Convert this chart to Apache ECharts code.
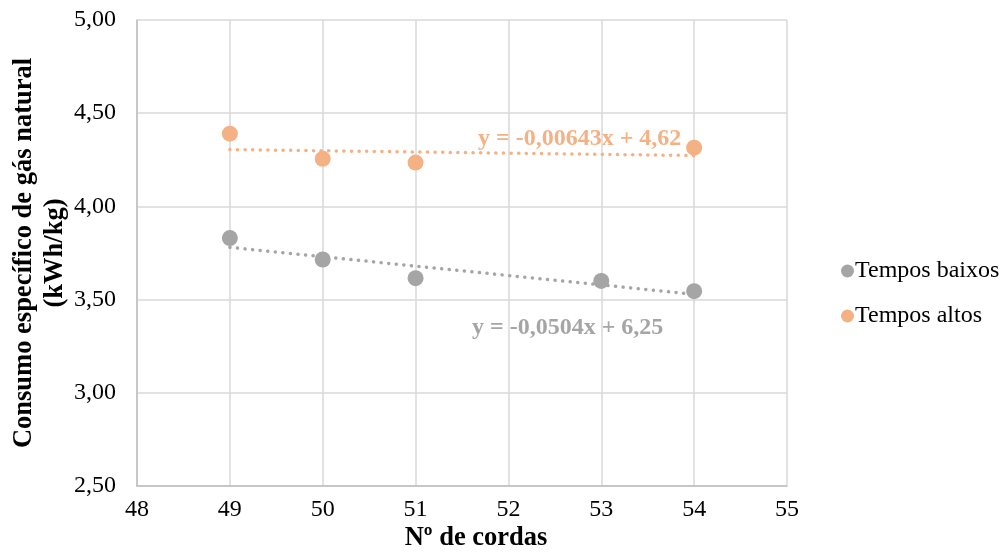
<!DOCTYPE html>
<html>
<head>
<meta charset="utf-8">
<script src="https://cdn.jsdelivr.net/npm/echarts@6/dist/echarts.min.js"></script>
<style>html,body{margin:0;padding:0;background:#fff}#c{width:1004px;height:554px}</style>
</head>
<body>
<div id="c"></div>
<script>
const seriesNames = ['Tempos baixos', 'Tempos altos'];
const baixosX = [49, 50, 51, 53, 54];
const baixosY = [3.83, 3.715, 3.615, 3.60, 3.545];
const altosX = [49, 50, 51, 54];
const altosY = [4.39, 4.255, 4.235, 4.315];
// trendline coefficients (slope, intercept) as shown in the chart
const baixosTrend = [-0.0504, 6.25];
const altosTrend = [-0.00643, 4.62];
const trendRange = [49, 54];
const eqLabels = ['y = -0,0504x + 6,25', 'y = -0,00643x + 4,62'];
const xTitle = 'Nº de cordas';
const yTitle = 'Consumo específico de gás natural\n(kWh/kg)';

const gray = '#a5a5a5', orange = '#f4b183';
const font = "'Liberation Serif', 'Times New Roman', serif";
const pts = (xs, ys) => xs.map((x, i) => [x, ys[i]]);
const trend = (c) => trendRange.map(x => [x, c[0] * x + c[1]]);

const chart = echarts.init(document.getElementById('c'), null, {renderer: 'canvas'});
chart.setOption({
  animation: false,
  textStyle: {fontFamily: font},
  grid: {left: 137, right: 217, top: 20, bottom: 68, containLabel: false, outerBoundsMode: 'none'},
  xAxis: {
    type: 'value', min: 48, max: 55, interval: 1,
    name: xTitle, nameLocation: 'middle', nameGap: 39, nameMoveOverlap: false,
    nameTextStyle: {fontFamily: font, fontSize: 26.5, fontWeight: 'bold', color: '#000', padding: [0, 0, 0, 28]},
    axisLine: {show: true, lineStyle: {color: '#bfbfbf', width: 1.5}},
    axisTick: {show: false},
    axisLabel: {fontFamily: font, fontSize: 24, color: '#000', margin: 12},
    splitLine: {show: true, lineStyle: {color: '#d9d9d9', width: 1.5}}
  },
  yAxis: {
    type: 'value', min: 2.5, max: 5, interval: 0.5,
    name: yTitle, nameLocation: 'middle', nameGap: 66, nameRotate: 90, nameMoveOverlap: false,
    nameTextStyle: {fontFamily: font, fontSize: 26.5, fontWeight: 'bold', color: '#000', lineHeight: 31},
    axisLine: {show: true, lineStyle: {color: '#bfbfbf', width: 1.5}},
    axisTick: {show: false},
    axisLabel: {fontFamily: font, fontSize: 24, color: '#000', margin: 21,
      formatter: v => v.toFixed(2).replace('.', ',')},
    splitLine: {show: true, lineStyle: {color: '#d9d9d9', width: 1.5}}
  },
  legend: {
    data: seriesNames, orient: 'vertical', left: 836, top: 254, itemGap: 21,
    icon: 'circle', itemWidth: 13, itemHeight: 13,
    textStyle: {fontFamily: font, fontSize: 24, color: '#000', padding: [0, 0, 0, -4]}
  },
  graphic: [
    {type: 'text', left: 472, top: 316, style: {text: eqLabels[0], fill: gray, font: 'bold 24px ' + font}},
    {type: 'text', left: 478, top: 127, style: {text: eqLabels[1], fill: orange, font: 'bold 24px ' + font}}
  ],
  series: [
    {name: 'trend baixos', type: 'line', data: trend(baixosTrend), symbol: 'none', silent: true,
      lineStyle: {color: gray, width: 3.5, type: [0.1, 7.5], cap: 'round'}, z: 2},
    {name: 'trend altos', type: 'line', data: trend(altosTrend), symbol: 'none', silent: true,
      lineStyle: {color: orange, width: 3.5, type: [0.1, 7.5], cap: 'round'}, z: 2},
    {name: seriesNames[0], type: 'scatter', data: pts(baixosX, baixosY), symbolSize: 16,
      itemStyle: {color: gray, opacity: 1}, z: 3},
    {name: seriesNames[1], type: 'scatter', data: pts(altosX, altosY), symbolSize: 16,
      itemStyle: {color: orange, opacity: 1}, z: 3}
  ]
});
</script>
</body>
</html>
